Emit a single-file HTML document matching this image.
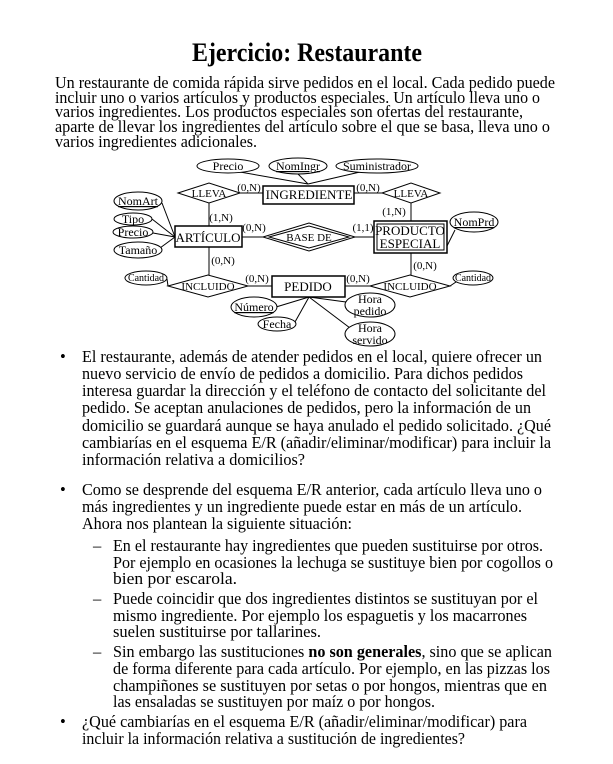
<!DOCTYPE html>
<html><head><meta charset="utf-8"><style>
html,body{margin:0;padding:0;background:#fff;}
svg{display:block;}
text{font-family:"Liberation Serif",serif;fill:#000;}
.b{font-size:16.5px;}
.d{font-size:12px;}
</style></head><body>
<svg width="613" height="764" viewBox="0 0 613 764" xmlns="http://www.w3.org/2000/svg">
<text x="192" y="61" font-size="26" font-weight="bold" textLength="230" lengthAdjust="spacingAndGlyphs">Ejercicio: Restaurante</text>
<g class="b">
<text x="55" y="88" textLength="500" lengthAdjust="spacingAndGlyphs">Un restaurante de comida rápida sirve pedidos en el local. Cada pedido puede</text>
<text x="55" y="103" textLength="485" lengthAdjust="spacingAndGlyphs">incluir uno o varios artículos y productos especiales. Un artículo lleva uno o</text>
<text x="55" y="117" textLength="468" lengthAdjust="spacingAndGlyphs">varios ingredientes. Los productos especiales son ofertas del restaurante,</text>
<text x="55" y="132" textLength="495" lengthAdjust="spacingAndGlyphs">aparte de llevar los ingredientes del artículo sobre el que se basa, lleva uno o</text>
<text x="55" y="147" textLength="202" lengthAdjust="spacingAndGlyphs">varios ingredientes adicionales.</text>

<text x="60" y="362">•</text>
<text x="82" y="362" textLength="460" lengthAdjust="spacingAndGlyphs">El restaurante, además de atender pedidos en el local, quiere ofrecer un</text>
<text x="82" y="379" textLength="441" lengthAdjust="spacingAndGlyphs">nuevo servicio de envío de pedidos a domicilio. Para dichos pedidos</text>
<text x="82" y="396" textLength="464" lengthAdjust="spacingAndGlyphs">interesa guardar la dirección y el teléfono de contacto del solicitante del</text>
<text x="82" y="413" textLength="449" lengthAdjust="spacingAndGlyphs">pedido. Se aceptan anulaciones de pedidos, pero la información de un</text>
<text x="82" y="431" textLength="469" lengthAdjust="spacingAndGlyphs">domicilio se guardará aunque se haya anulado el pedido solicitado. ¿Qué</text>
<text x="82" y="448" textLength="469" lengthAdjust="spacingAndGlyphs">cambiarías en el esquema E/R (añadir/eliminar/modificar) para incluir la</text>
<text x="82" y="465" textLength="223" lengthAdjust="spacingAndGlyphs">información relativa a domicilios?</text>

<text x="60" y="495">•</text>
<text x="82" y="495" textLength="460" lengthAdjust="spacingAndGlyphs">Como se desprende del esquema E/R anterior, cada artículo lleva uno o</text>
<text x="82" y="512" textLength="440" lengthAdjust="spacingAndGlyphs">más ingredientes y un ingrediente puede estar en más de un artículo.</text>
<text x="82" y="529" textLength="270" lengthAdjust="spacingAndGlyphs">Ahora nos plantean la siguiente situación:</text>

<text x="93" y="551">–</text>
<text x="113" y="551" textLength="430" lengthAdjust="spacingAndGlyphs">En el restaurante hay ingredientes que pueden sustituirse por otros.</text>
<text x="113" y="568" textLength="440" lengthAdjust="spacingAndGlyphs">Por ejemplo en ocasiones la lechuga se sustituye bien por cogollos o</text>
<text x="113" y="584" textLength="124" lengthAdjust="spacingAndGlyphs">bien por escarola.</text>
<text x="93" y="604">–</text>
<text x="113" y="604" textLength="425" lengthAdjust="spacingAndGlyphs">Puede coincidir que dos ingredientes distintos se sustituyan por el</text>
<text x="113" y="621" textLength="414" lengthAdjust="spacingAndGlyphs">mismo ingrediente. Por ejemplo los espaguetis y los macarrones</text>
<text x="113" y="637">suelen sustituirse por tallarines.</text>
<text x="93" y="657">–</text>
<text x="113" y="657" textLength="439" lengthAdjust="spacingAndGlyphs">Sin embargo las sustituciones <tspan font-weight="bold">no son generales</tspan>, sino que se aplican</text>
<text x="113" y="674" textLength="437" lengthAdjust="spacingAndGlyphs">de forma diferente para cada artículo. Por ejemplo, en las pizzas los</text>
<text x="113" y="691" textLength="434" lengthAdjust="spacingAndGlyphs">champiñones se sustituyen por setas o por hongos, mientras que en</text>
<text x="113" y="707" textLength="322" lengthAdjust="spacingAndGlyphs">las ensaladas se sustituyen por maíz o por hongos.</text>

<text x="60" y="727">•</text>
<text x="82" y="727" textLength="445" lengthAdjust="spacingAndGlyphs">¿Qué cambiarías en el esquema E/R (añadir/eliminar/modificar) para</text>
<text x="82" y="744" textLength="383" lengthAdjust="spacingAndGlyphs">incluir la información relativa a sustitución de ingredientes?</text>
</g>

<!-- diagram -->
<g stroke="#000" stroke-width="1" fill="none">
<line x1="240" y1="172" x2="308" y2="184"/>
<line x1="298" y1="174" x2="308" y2="184"/>
<line x1="360" y1="172" x2="308" y2="184"/>
<line x1="240" y1="193" x2="263" y2="193"/>
<line x1="354" y1="193" x2="382" y2="193"/>
<line x1="209" y1="203" x2="209" y2="226"/>
<line x1="411" y1="203" x2="411" y2="221"/>
<line x1="162" y1="203" x2="175" y2="237"/>
<line x1="152" y1="219" x2="175" y2="237"/>
<line x1="153" y1="233" x2="175" y2="237"/>
<line x1="160" y1="248" x2="175" y2="237"/>
<line x1="242" y1="237" x2="263" y2="237"/>
<line x1="355" y1="237" x2="374" y2="237"/>
<line x1="455" y1="230" x2="447" y2="246"/>
<line x1="209" y1="247" x2="209" y2="275"/>
<line x1="411" y1="253" x2="411" y2="275"/>
<line x1="167" y1="279" x2="168" y2="286"/>
<line x1="248" y1="286" x2="272" y2="286"/>
<line x1="345" y1="286" x2="370" y2="286"/>
<line x1="450" y1="286" x2="456" y2="282"/>
<line x1="309" y1="297" x2="276" y2="307"/>
<line x1="309" y1="297" x2="295" y2="322"/>
<line x1="309" y1="297" x2="346" y2="302"/>
<line x1="309" y1="297" x2="350" y2="328"/>
<g fill="#fff">
<ellipse cx="228" cy="166" rx="31" ry="7"/>
<ellipse cx="298" cy="166" rx="29" ry="8"/>
<ellipse cx="377" cy="166" rx="41" ry="7"/>
<ellipse cx="138" cy="201" rx="24" ry="9"/>
<ellipse cx="133" cy="219" rx="19" ry="6"/>
<ellipse cx="133" cy="232" rx="20" ry="6"/>
<ellipse cx="138" cy="250" rx="24" ry="8"/>
<ellipse cx="474" cy="222" rx="24" ry="10"/>
<ellipse cx="146" cy="278" rx="21" ry="7"/>
<ellipse cx="473" cy="278" rx="20" ry="7"/>
<ellipse cx="254" cy="307" rx="23" ry="10"/>
<ellipse cx="277" cy="324" rx="19" ry="7"/>
<ellipse cx="370" cy="305" rx="25" ry="12"/>
<ellipse cx="370" cy="334" rx="25" ry="12"/>
<rect x="263" y="186" width="91" height="18" stroke-width="1.5"/>
<rect x="175" y="226" width="67" height="21" stroke-width="1.5"/>
<rect x="374" y="221" width="73" height="32" stroke-width="1.5"/>
<rect x="377" y="224" width="67" height="26"/>
<rect x="272" y="276" width="73" height="21" stroke-width="1.5"/>
<polygon points="178,193 209,183 240,193 209,203"/>
<polygon points="382,193 411,183 440,193 411,203"/>
<polygon points="263,237 309,223 355,237 309,251"/>
<polygon points="269,237 309,226 349,237 309,248"/>
<polygon points="168,286 208,275 248,286 208,297"/>
<polygon points="370,286 410,275 450,286 410,297"/>
</g>
</g>
<g class="d" text-anchor="middle">
<text x="228" y="170">Precio</text>
<text x="298" y="170" text-decoration="underline">NomIngr</text>
<text x="377" y="170">Suministrador</text>
<text x="309" y="199" font-size="13">INGREDIENTE</text>
<text x="209" y="197" font-size="11">LLEVA</text>
<text x="411" y="197" font-size="11">LLEVA</text>
<text x="249" y="191" font-size="11">(0,N)</text>
<text x="368" y="191" font-size="11">(0,N)</text>
<text x="221" y="221" font-size="11">(1,N)</text>
<text x="394" y="215" font-size="11">(1,N)</text>
<text x="138" y="205" text-decoration="underline">NomArt</text>
<text x="133" y="223">Tipo</text>
<text x="133" y="236">Precio</text>
<text x="138" y="254">Tamaño</text>
<text x="208" y="242" font-size="13">ARTÍCULO</text>
<text x="309" y="241" font-size="11">BASE DE</text>
<text x="254" y="231" font-size="11">(0,N)</text>
<text x="363" y="231" font-size="11">(1,1)</text>
<text x="410" y="235" font-size="13">PRODUCTO</text>
<text x="410" y="248" font-size="13">ESPECIAL</text>
<text x="474" y="226" text-decoration="underline">NomPrd</text>
<text x="223" y="264" font-size="11">(0,N)</text>
<text x="425" y="269" font-size="11">(0,N)</text>
<text x="146" y="281" font-size="10">Cantidad</text>
<text x="473" y="281" font-size="10">Cantidad</text>
<text x="208" y="290" font-size="11">INCLUIDO</text>
<text x="410" y="290" font-size="11">INCLUIDO</text>
<text x="257" y="282" font-size="11">(0,N)</text>
<text x="358" y="282" font-size="11">(0,N)</text>
<text x="308" y="291" font-size="13">PEDIDO</text>
<text x="254" y="311" text-decoration="underline">Número</text>
<text x="277" y="328">Fecha</text>
<text x="370" y="303">Hora</text>
<text x="370" y="315">pedido</text>
<text x="370" y="332">Hora</text>
<text x="370" y="344">servido</text>
</g>
</svg>
</body></html>
